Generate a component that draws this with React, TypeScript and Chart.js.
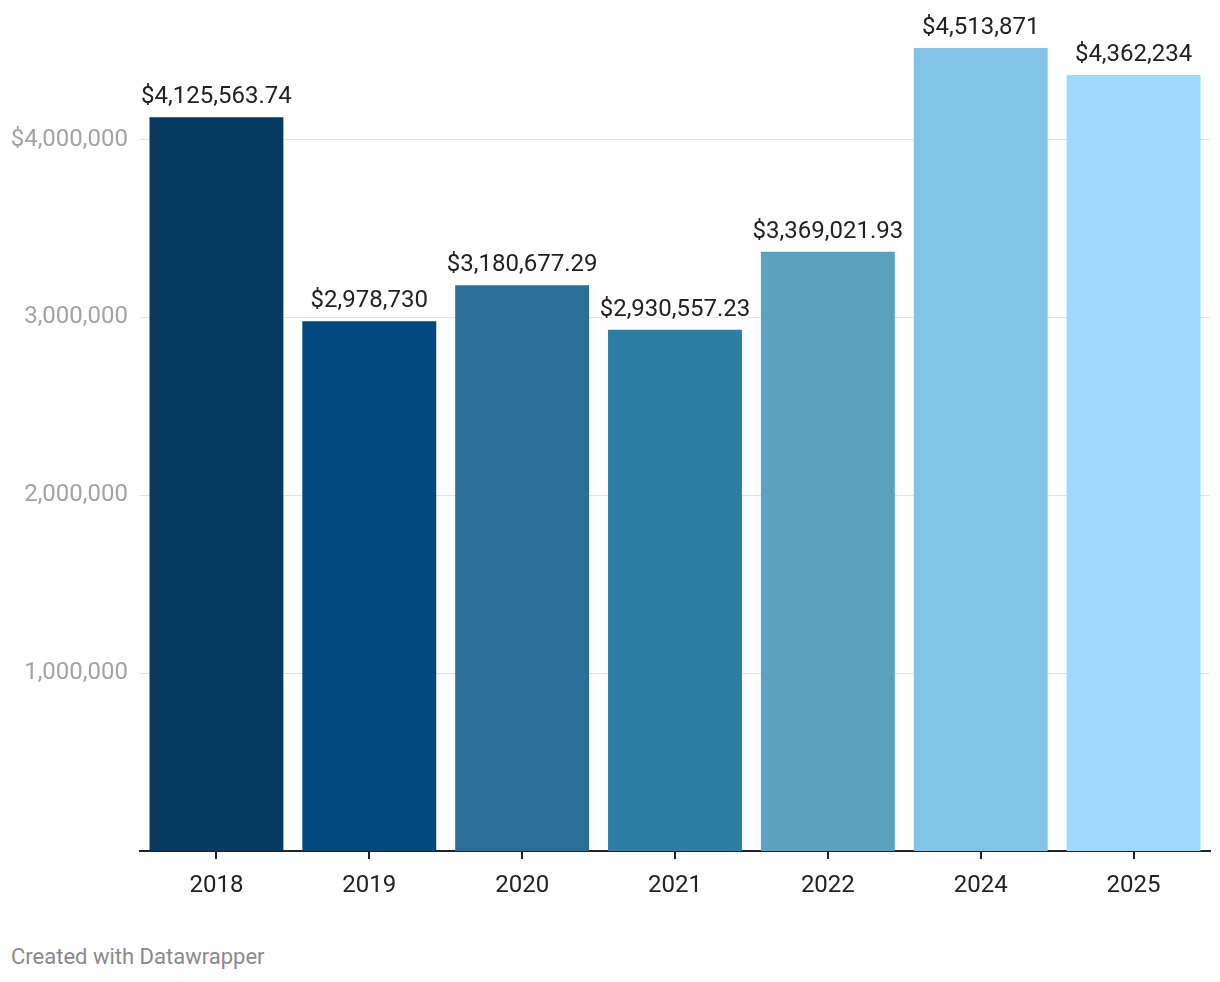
import React, { useEffect, useRef } from "react";
import { Chart, registerables } from "chart.js";

Chart.register(...registerables);

const categories = ["2018", "2019", "2020", "2021", "2022", "2024", "2025"];
const values = [4125563.74, 2978730, 3180677.29, 2930557.23, 3369021.93, 4513871, 4362234];
const valueLabels = ["$4,125,563.74", "$2,978,730", "$3,180,677.29", "$2,930,557.23", "$3,369,021.93", "$4,513,871", "$4,362,234"];
const barColors = ["#063a61", "#01497c", "#2a6f97", "#2c7ea3", "#5ba1c0", "#83c4e6", "#9cdbfd"];
const yTickValues = [1000000, 2000000, 3000000, 4000000];
const yTickLabels = ["1,000,000", "2,000,000", "3,000,000", "$4,000,000"];

const FONT = "Roboto, 'Noto Sans', sans-serif";

const valueLabelPlugin = {
  id: "valueLabels",
  afterDatasetsDraw(chart: any) {
    const ctx = chart.ctx;
    const meta = chart.getDatasetMeta(0);
    ctx.save();
    ctx.font = `24px ${FONT}`;
    ctx.textAlign = "center";
    ctx.textBaseline = "alphabetic";
    ctx.lineJoin = "round";
    meta.data.forEach((bar: any, i: number) => {
      const y = bar.y - 14;
      ctx.strokeStyle = "#ffffff";
      ctx.lineWidth = 5;
      ctx.strokeText(valueLabels[i], bar.x, y);
      ctx.fillStyle = "#222222";
      ctx.fillText(valueLabels[i], bar.x, y);
    });
    ctx.restore();
  },
};

export default function App() {
  const ref = useRef<HTMLCanvasElement>(null);
  useEffect(() => {
    if (!ref.current) return;
    const chart = new Chart(ref.current, {
      type: "bar",
      data: {
        labels: categories,
        datasets: [
          {
            data: values,
            backgroundColor: barColors,
            borderWidth: 0,
            barPercentage: 0.876,
            categoryPercentage: 1,
          },
        ],
      },
      options: {
        responsive: false,
        animation: false,
        devicePixelRatio: 1,
        layout: { autoPadding: false, padding: { top: 15, right: 10, bottom: 0, left: 0 } },
        plugins: { legend: { display: false }, tooltip: { enabled: false } },
        scales: {
          x: {
            grid: {
              display: true,
              drawOnChartArea: false,
              drawTicks: true,
              tickLength: 8,
              offset: false,
              color: "#222222",
              lineWidth: 2,
            },
            border: { display: true, color: "#222222", width: 2 },
            ticks: {
              color: "#222222",
              font: { family: FONT, size: 24 },
              padding: 13,
            },
            afterFit(scale: any) {
              scale.height = 49;
              scale.paddingLeft = 0;
              scale.paddingRight = 0;
            },
          },
          y: {
            min: 0,
            max: 4700000,
            border: { display: false },
            grid: { color: "#e3e3e3", lineWidth: 1, drawTicks: false },
            afterBuildTicks(scale: any) {
              scale.ticks = yTickValues.map((v) => ({ value: v }));
            },
            ticks: {
              color: "#a3a3a3",
              font: { family: FONT, size: 24 },
              padding: 12,
              callback(value: any) {
                const idx = yTickValues.indexOf(Number(value));
                return idx >= 0 ? yTickLabels[idx] : "";
              },
            },
            afterFit(scale: any) {
              scale.width = 140;
              scale.paddingTop = 0;
              scale.paddingBottom = 0;
            },
          },
        },
      },
      plugins: [valueLabelPlugin],
    });
    return () => chart.destroy();
  }, []);

  return (
    <div style={{ position: "absolute", left: 0, top: 0, width: 1220, height: 982, background: "#ffffff" }}>
      <canvas ref={ref} width={1220} height={900} style={{ width: 1220, height: 900, display: "block" }} />
      <div
        style={{
          position: "absolute",
          left: 11,
          top: 944,
          fontFamily: FONT,
          fontSize: 22,
          color: "#8a8a8a",
          lineHeight: "26px",
        }}
      >
        Created with Datawrapper
      </div>
    </div>
  );
}
